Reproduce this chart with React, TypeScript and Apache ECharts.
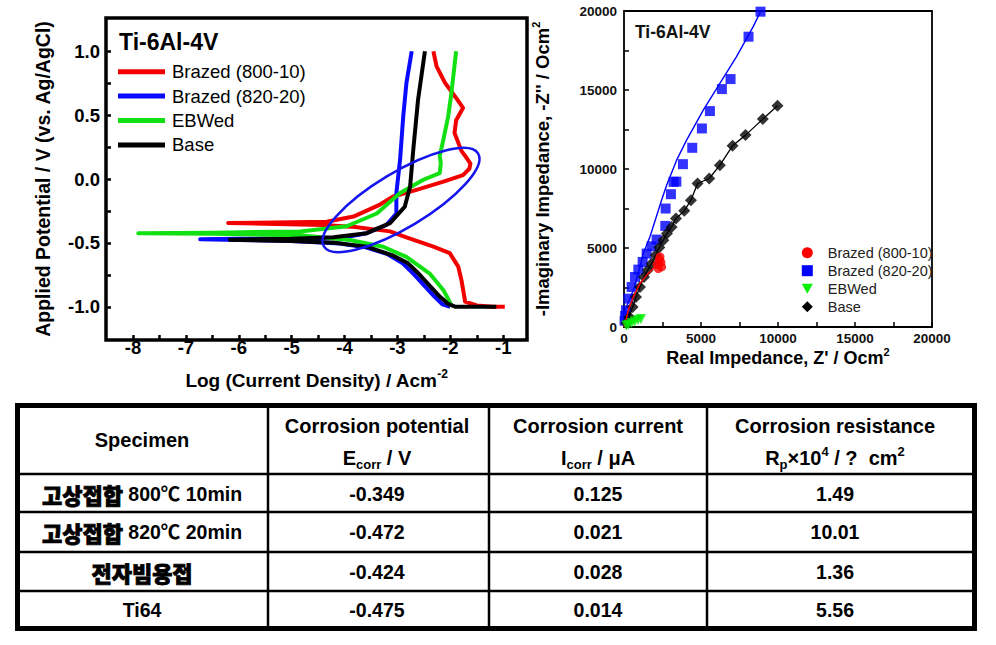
import { useEffect, useRef } from "react";
import * as echarts from "echarts";

const FONT = "'Liberation Sans', Arial, 'Noto Sans CJK KR', sans-serif";
const KR = "'Noto Sans CJK KR', 'Liberation Sans', sans-serif";

// ---------- Polarization curves (log i, E) ----------
const red800LogI = [-0.97, -1.2, -1.5, -1.72, -1.79, -1.85, -2.01, -2.32, -2.83, -3.14, -3.33, -3.8, -4.4, -5.3, -6.2, -5.3, -4.34, -3.83, -3.33, -3.08, -2.64, -2.13, -1.76, -1.64, -1.62, -1.7, -1.79, -1.92, -1.89, -1.76, -1.89, -2.1, -2.26, -2.32];
const red800E = [-1.0, -1.0, -0.99, -0.96, -0.79, -0.686, -0.58, -0.53, -0.456, -0.41, -0.4, -0.375, -0.36, -0.352, -0.345, -0.34, -0.335, -0.294, -0.2, -0.137, -0.085, -0.02, 0.03, 0.08, 0.12, 0.17, 0.22, 0.36, 0.46, 0.556, 0.634, 0.752, 0.882, 1.0];

const blue820LogI = [-2.0, -2.15, -2.3, -2.5, -2.7, -2.9, -3.2, -3.6, -4.09, -5.0, -6.0, -6.73, -6.0, -5.0, -4.09, -3.58, -3.21, -3.02, -3.02, -2.95, -2.89, -2.83, -2.73];
const blue820E = [-1.0, -0.98, -0.92, -0.83, -0.74, -0.66, -0.585, -0.535, -0.505, -0.485, -0.477, -0.472, -0.468, -0.466, -0.464, -0.424, -0.36, -0.27, -0.11, 0.15, 0.49, 0.75, 1.0];

const ebwLogI = [-1.98, -2.0, -2.13, -2.39, -2.83, -3.27, -3.9, -4.84, -6.5, -7.9, -6.5, -4.84, -3.96, -3.39, -2.95, -2.51, -2.2, -2.18, -2.2, -2.13, -2.04, -1.98, -1.89];
const ebwE = [-1.0, -0.97, -0.87, -0.74, -0.61, -0.53, -0.477, -0.44, -0.428, -0.424, -0.42, -0.41, -0.37, -0.27, -0.11, -0.006, 0.046, 0.125, 0.18, 0.31, 0.49, 0.67, 1.0];

const baseLogI = [-1.13, -1.9, -2.05, -2.2, -2.4, -2.6, -2.8, -3.08, -3.58, -4.21, -5.0, -6.17, -5.0, -4.21, -3.58, -3.14, -2.86, -2.76, -2.7, -2.61, -2.48];
const baseE = [-1.0, -1.0, -0.975, -0.92, -0.83, -0.74, -0.66, -0.6, -0.53, -0.498, -0.485, -0.475, -0.468, -0.456, -0.424, -0.346, -0.216, -0.059, 0.23, 0.62, 1.0];

const potTicks = [-1, -0.75, -0.5, -0.25, 0, 0.25, 0.5, 0.75, 1];
const potLabels = [-1, -0.5, 0, 0.5, 1];
const logTicks = [-8, -7.5, -7, -6.5, -6, -5.5, -5, -4.5, -4, -3.5, -3, -2.5, -2, -1.5, -1];
const logLabels = [-8, -7, -6, -5, -4, -3, -2, -1];

// ---------- Nyquist data (Z', -Z'') ----------
const red800Re = [2226, 2335, 2443, 2400, 2300, 2150];
const red800Im = [3700, 4440, 3805, 4100, 4250, 3950];
const red800FitRe = [0, 65, 281, 605, 1038, 1470, 1903, 2226];
const red800FitIm = [0, 214, 1059, 1903, 2750, 3280, 3700, 3913];

const blue820Re = [40, 70, 130, 281, 497, 713, 930, 1211, 1470, 1794, 2119, 2681, 2703, 3048, 3221, 3400, 3827, 4432, 5059, 5578, 6356, 6918, 8086, 8864];
const blue820Im = [400, 700, 1056, 1795, 2534, 3168, 3633, 4118, 4646, 5111, 5533, 6399, 7498, 8406, 9187, 9200, 10307, 11341, 12566, 13665, 15058, 15692, 18374, 19958];
const blue820FitRe = [0, 65, 605, 1038, 1254, 1686, 2445, 2767, 3416, 4065, 5146, 6227, 7308, 8389, 8864];
const blue820FitIm = [300, 1059, 2328, 3805, 4655, 5708, 8036, 8976, 10560, 11827, 13728, 15418, 17107, 19008, 19958];

const ebwRe = [150, 300, 500, 700, 900, 1100];
const ebwIm = [100, 150, 250, 350, 450, 500];

const baseRe = [150, 346, 562, 778, 1038, 1297, 1535, 1794, 2054, 2292, 2551, 2789, 3092, 3373, 3913, 4346, 4778, 5535, 6227, 7048, 7891, 9015, 9967];
const baseIm = [250, 634, 1267, 1901, 2534, 3168, 3590, 4013, 4541, 5026, 5491, 5914, 6336, 6864, 7350, 8026, 9082, 9398, 10243, 11468, 12144, 13158, 14003];

const legendNames = ["Brazed (800-10)", "Brazed (820-20)", "EBWed", "Base"];
const lineColors = ["#f20000", "#0a0aff", "#12e012", "#000000"];
const markColors = ["#ff0000", "#0000ff", "#00ee00", "#000000"];
const markIcons = ["circle", "rect", "path://M0,0L10,0L5,9Z", "diamond"];

// ---------- Table ----------
const headerLine1 = ["Specimen", "Corrosion potential", "Corrosion current", "Corrosion resistance"];
const headerLine2 = ["", "E{sub|corr} / V", "I{sub|corr} / μA", "R{sub|p}×10{sup|4} / ?  cm{sup|2}"];
const specimenKo = ["고상접합", "고상접합", "전자빔용접", ""];
const specimenRest = [" 800℃ 10min", " 820℃ 20min", "", "Ti64"];
const eCorr = [-0.349, -0.472, -0.424, -0.475];
const iCorr = [0.125, 0.021, 0.028, 0.014];
const rP = [1.49, 10.01, 1.36, 5.56];

const zip = (a: number[], b: number[]) => a.map((v, i) => [v, b[i]]);

function buildTable() {
  const els: any[] = [];
  const colX = [268, 489, 707];
  const rowY = [474, 512, 552, 591];
  const centers = [142, 377, 598, 835];
  const rowC = [494, 532, 572, 610];
  els.push({
    type: "rect",
    shape: { x: 17.5, y: 405.5, width: 957, height: 223 },
    style: { fill: "none", stroke: "#000", lineWidth: 5 },
  });
  colX.forEach((x) =>
    els.push({ type: "line", shape: { x1: x, y1: 405, x2: x, y2: 629 }, style: { stroke: "#000", lineWidth: 2.5 } })
  );
  rowY.forEach((y) =>
    els.push({ type: "line", shape: { x1: 17, y1: y, x2: 975, y2: y }, style: { stroke: "#000", lineWidth: 2.5 } })
  );
  const base = { fontFamily: FONT, fontWeight: "bold", fill: "#000", align: "center", verticalAlign: "middle", textAlign: "center", textVerticalAlign: "middle" };
  const rich = {
    sub: { fontSize: 13, fontWeight: "bold", fontFamily: FONT, lineHeight: 12, verticalAlign: "bottom", fill: "#000" },
    sup: { fontSize: 13, fontWeight: "bold", fontFamily: FONT, lineHeight: 12, verticalAlign: "top", fill: "#000" },
    ko: { fontSize: 22, fontWeight: 900, fontFamily: KR, fill: "#000", lineHeight: 26, stroke: "#000", lineWidth: 0.8 },
    lat: { fontSize: 19.5, fontWeight: "bold", fontFamily: FONT, fill: "#000", lineHeight: 26 },
  };
  headerLine1.forEach((t, i) => {
    const y = headerLine2[i] ? 426 : 440;
    els.push({ type: "text", x: centers[i], y, style: { ...base, text: t, fontSize: 20 } });
    if (headerLine2[i]) {
      els.push({ type: "text", x: centers[i], y: 458, style: { ...base, text: headerLine2[i], fontSize: 20, lineHeight: 26, rich } });
    }
  });
  specimenKo.forEach((ko, r) => {
    const parts = (ko ? `{ko|${ko}}` : "") + (specimenRest[r] ? `{lat|${specimenRest[r]}}` : "");
    els.push({ type: "text", x: centers[0], y: rowC[r], style: { ...base, text: parts, fontSize: 20, rich } });
    els.push({ type: "text", x: centers[1], y: rowC[r], style: { ...base, text: eCorr[r].toFixed(3), fontSize: 19.5 } });
    els.push({ type: "text", x: centers[2], y: rowC[r], style: { ...base, text: iCorr[r].toFixed(3), fontSize: 19.5 } });
    els.push({ type: "text", x: centers[3], y: rowC[r], style: { ...base, text: rP[r].toFixed(2), fontSize: 19.5 } });
  });
  return els;
}

function buildOption() {
  const supRich = (size: number) => ({
    sup: { fontSize: size, fontWeight: "bold", fontFamily: FONT, color: "#000", lineHeight: 12, verticalAlign: "top" },
  });
  const leftCurves = [
    zip(red800LogI, red800E),
    zip(blue820LogI, blue820E),
    zip(ebwLogI, ebwE),
    zip(baseLogI, baseE),
  ];
  return {
    animation: false,
    backgroundColor: "#fff",
    textStyle: { fontFamily: FONT },
    title: [
      { text: "Ti-6Al-4V", left: 119, top: 29, padding: 0, textStyle: { fontSize: 23, fontWeight: "bold", color: "#000", lineHeight: 26, fontFamily: FONT } },
      { text: "Ti-6Al-4V", left: 635, top: 22, padding: 0, textStyle: { fontSize: 17.5, fontWeight: "bold", color: "#111", lineHeight: 20, fontFamily: FONT } },
    ],
    legend: [
      {
        left: 118, top: 59.5, orient: "vertical", itemGap: 0, itemWidth: 47, itemHeight: 5, padding: 0, selectedMode: false,
        textStyle: { fontSize: 18.5, lineHeight: 24.4, color: "#000", fontFamily: FONT, padding: [0, 0, 0, 2] },
        data: legendNames.map((n, i) => ({ name: n, icon: "rect", itemStyle: { color: lineColors[i] } })),
      },
      {
        left: 801.8, top: 243.7, orient: "vertical", itemGap: 0, itemWidth: 11, itemHeight: 11, padding: 0, selectedMode: false,
        textStyle: { fontSize: 14.5, lineHeight: 18, color: "#222", fontFamily: FONT, padding: [0, 0, 0, 10] },
        data: legendNames.map((n, i) => ({ name: n, icon: markIcons[i], itemStyle: { color: markColors[i] } })),
      },
    ],
    grid: [
      { left: 106, top: 18, width: 421, height: 322, show: true, borderColor: "#000", borderWidth: 3.5, backgroundColor: "transparent" },
      { left: 624, top: 11, width: 308, height: 316, show: true, borderColor: "#000", borderWidth: 1.8, backgroundColor: "transparent" },
    ],
    xAxis: [
      {
        gridIndex: 0, type: "value", min: -8.51, max: -0.55, position: "bottom",
        axisLine: { show: false, onZero: false },
        axisTick: { show: true, inside: true, length: 5, customValues: logTicks, lineStyle: { color: "#000", width: 2.5 } },
        axisLabel: { customValues: logLabels, formatter: (v: number) => String(v), fontSize: 18.5, fontWeight: "bold", color: "#000", margin: -2, fontFamily: FONT },
        splitLine: { show: false },
        name: "Log (Current Density) / Acm{sup|-2}", nameLocation: "middle", nameGap: 28,
        nameTextStyle: { fontSize: 19, fontWeight: "bold", color: "#000", lineHeight: 24, fontFamily: FONT, rich: supRich(12) },
      },
      {
        gridIndex: 1, type: "value", min: 0, max: 20000, interval: 5000, position: "bottom",
        axisLine: { show: false, onZero: false },
        axisTick: { show: true, inside: true, length: 5, lineStyle: { color: "#000", width: 1.5 } },
        minorTick: { show: true, splitNumber: 2, length: 5, lineStyle: { color: "#000", width: 1.5 } },
        axisLabel: { formatter: (v: number) => String(v), fontSize: 13.5, fontWeight: "bold", color: "#111", margin: 5, fontFamily: FONT },
        splitLine: { show: false },
        name: "Real Impedance, Z' / Ocm{sup|2}", nameLocation: "middle", nameGap: 13,
        nameTextStyle: { fontSize: 18, fontWeight: "bold", color: "#000", lineHeight: 24, fontFamily: FONT, rich: supRich(11) },
      },
    ],
    yAxis: [
      {
        gridIndex: 0, type: "value", min: -1.26, max: 1.26, position: "left",
        axisLine: { show: false, onZero: false },
        axisTick: { show: true, inside: true, length: 5, customValues: potTicks, lineStyle: { color: "#000", width: 2.5 } },
        axisLabel: { customValues: potLabels, formatter: (v: number) => v.toFixed(1), fontSize: 18.5, fontWeight: "bold", color: "#000", margin: 6, fontFamily: FONT },
        splitLine: { show: false },
        name: "Applied Potential / V (vs. Ag/AgCl)", nameLocation: "middle", nameGap: 51, nameRotate: 90,
        nameTextStyle: { fontSize: 19.5, fontWeight: "bold", color: "#000", lineHeight: 24, fontFamily: FONT },
      },
      {
        gridIndex: 1, type: "value", min: 0, max: 20000, interval: 5000, position: "left",
        axisLine: { show: false, onZero: false },
        axisTick: { show: true, inside: true, length: 5, lineStyle: { color: "#000", width: 1.5 } },
        minorTick: { show: true, splitNumber: 2, length: 5, lineStyle: { color: "#000", width: 1.5 } },
        axisLabel: { formatter: (v: number) => String(v), fontSize: 13.5, fontWeight: "bold", color: "#111", margin: 7, fontFamily: FONT },
        splitLine: { show: false },
        name: "-Imaginary Impedance, -Z'' / Ocm{sup|2}", nameLocation: "middle", nameGap: 70, nameRotate: 90,
        nameTextStyle: { fontSize: 18.5, fontWeight: "bold", color: "#000", lineHeight: 24, fontFamily: FONT, rich: supRich(11) },
      },
    ],
    series: [
      ...[0, 1, 2, 3].map((i) => ({
        type: "line", name: legendNames[i], xAxisIndex: 0, yAxisIndex: 0, data: leftCurves[i],
        symbol: "none", showSymbol: false, silent: true, z: 3 + i,
        lineStyle: { color: lineColors[i], width: 4, join: "round" }, itemStyle: { color: lineColors[i] },
      })),
      { type: "line", name: "fit 820-20", xAxisIndex: 1, yAxisIndex: 1, data: zip(blue820FitRe, blue820FitIm), symbol: "none", silent: true, lineStyle: { color: "#0000ff", width: 1.4 }, z: 2 },
      { type: "scatter", name: legendNames[1], xAxisIndex: 1, yAxisIndex: 1, data: zip(blue820Re, blue820Im), symbol: "rect", symbolSize: 10, silent: true, itemStyle: { color: "#0000ff" }, z: 3 },
      { type: "line", name: "fit Base", xAxisIndex: 1, yAxisIndex: 1, data: [[0, 0], ...zip(baseRe, baseIm)], symbol: "none", silent: true, lineStyle: { color: "#000", width: 1.3 }, z: 4 },
      { type: "scatter", name: legendNames[3], xAxisIndex: 1, yAxisIndex: 1, data: zip(baseRe, baseIm), symbol: "diamond", symbolSize: 12, silent: true, itemStyle: { color: "#000" }, z: 5 },
      { type: "line", name: "fit 800-10", xAxisIndex: 1, yAxisIndex: 1, data: zip(red800FitRe, red800FitIm), symbol: "none", silent: true, lineStyle: { color: "#ff0000", width: 1.4 }, z: 6 },
      { type: "scatter", name: legendNames[0], xAxisIndex: 1, yAxisIndex: 1, data: zip(red800Re, red800Im), symbol: "circle", symbolSize: 9, silent: true, itemStyle: { color: "#ff0000" }, z: 7 },
      { type: "scatter", name: legendNames[2], xAxisIndex: 1, yAxisIndex: 1, data: zip(ebwRe, ebwIm), symbol: "path://M0,0L10,0L5,9Z", symbolSize: 10, silent: true, itemStyle: { color: "#00ee00" }, z: 8 },
    ],
    graphic: [
      {
        type: "ellipse", x: 401, y: 200, rotation: (31 * Math.PI) / 180, z: 50, silent: true,
        shape: { cx: 0, cy: 0, rx: 90, ry: 27.5 },
        style: { fill: "none", stroke: "#1515ee", lineWidth: 2.5 },
      },
      ...buildTable(),
    ],
  };
}

export default function App() {
  const ref = useRef<HTMLDivElement>(null);
  useEffect(() => {
    if (!ref.current) return;
    const chart = echarts.init(ref.current, null, { renderer: "svg" });
    chart.setOption(buildOption() as any);
    return () => chart.dispose();
  }, []);
  return (
    <div
      ref={ref}
      style={{ position: "fixed", left: 0, top: 0, width: 996, height: 645, background: "#fff" }}
    />
  );
}
